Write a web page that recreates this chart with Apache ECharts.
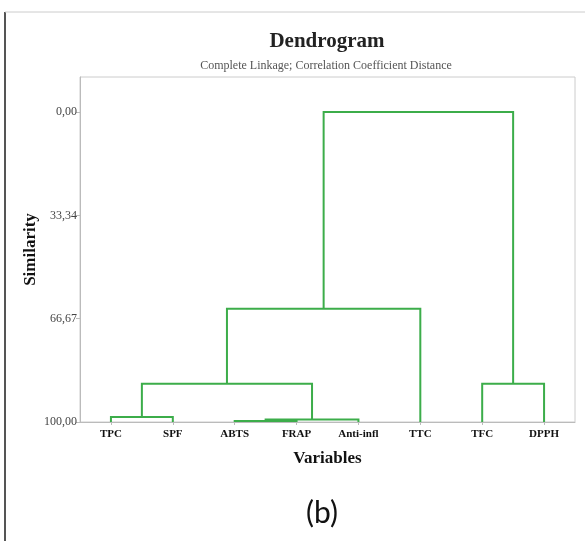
<!DOCTYPE html>
<html>
<head>
<meta charset="utf-8">
<script src="https://cdn.jsdelivr.net/npm/echarts@6/dist/echarts.min.js"></script>
<style>
  html, body { margin: 0; padding: 0; background: #fff; }
  #chart { width: 585px; height: 541px; }
</style>
</head>
<body>
<div id="chart"></div>
<script>
// leaves, left to right
const leafNames = ["TPC", "SPF", "ABTS", "FRAP", "Anti-infl", "TTC", "TFC", "DPPH"];
// merges: ids 0..7 are leaves, merge k gets id 8 + k
const mergeLeft = [0, 2, 9, 8, 6, 11, 13];
const mergeRight = [1, 3, 4, 10, 7, 5, 12];
const mergeHeight = [98.4, 99.7, 99.2, 87.7, 87.7, 63.5, 0];
const yTicks = [0, 33.34, 66.67, 100];

const green = "#3cad4a";
const serif = "'Liberation Serif', 'DejaVu Serif', serif";

// node positions (x = leaf index / mean of children, y = similarity)
const nodeX = leafNames.map((_, i) => i);
const nodeY = leafNames.map(() => 100);
const links = [];
mergeLeft.forEach((a, k) => {
  const b = mergeRight[k];
  const h = mergeHeight[k];
  links.push([nodeX[a], nodeY[a], nodeX[b], nodeY[b], h]);
  nodeX.push((nodeX[a] + nodeX[b]) / 2);
  nodeY.push(h);
});

const chart = echarts.init(document.getElementById("chart"));
chart.setOption({
  animation: false,
  title: [
    {
      text: "Dendrogram",
      left: 322,
      top: 26,
      textAlign: "center",
      textStyle: { fontFamily: serif, fontSize: 21, fontWeight: "bold", color: "#222" },
    },
    {
      text: "Complete Linkage; Correlation Coefficient Distance",
      left: 321,
      top: 55,
      textAlign: "center",
      textStyle: { fontFamily: serif, fontSize: 12, fontWeight: "normal", color: "#555" },
    },
  ],
  grid: {
    left: 80,
    right: 10,
    top: 77,
    bottom: 119,
    show: true,
    borderColor: "#cccccc",
    borderWidth: 1,
  },
  xAxis: {
    type: "value",
    min: -0.5,
    max: 7.5,
    name: "Variables",
    nameLocation: "middle",
    nameGap: 28,
    nameMoveOverlap: false,
    nameTextStyle: { fontFamily: serif, fontSize: 17, fontWeight: "bold", color: "#111" },
    axisLine: { onZero: false, lineStyle: { color: "#bbbbbb" } },
    axisTick: { customValues: leafNames.map((_, i) => i), length: 3, lineStyle: { color: "#bbbbbb" } },
    axisLabel: {
      customValues: leafNames.map((_, i) => i),
      formatter: (v) => leafNames[Math.round(v)],
      fontFamily: serif,
      fontSize: 11,
      fontWeight: "bold",
      color: "#111",
      margin: 7,
    },
    splitLine: { show: false },
  },
  yAxis: {
    type: "value",
    inverse: true,
    min: -11.3,
    max: 100,
    name: "Similarity",
    nameLocation: "middle",
    nameGap: 41,
    nameMoveOverlap: false,
    nameTextStyle: { fontFamily: serif, fontSize: 17, fontWeight: "bold", color: "#111" },
    axisLine: { show: true, onZero: false, lineStyle: { color: "#bbbbbb" } },
    axisTick: { customValues: yTicks, length: 4, lineStyle: { color: "#bbbbbb" } },
    axisLabel: {
      customValues: yTicks,
      formatter: (v) => v.toFixed(2).replace(".", ","),
      fontFamily: serif,
      fontSize: 12,
      color: "#444",
      margin: 3,
    },
    splitLine: { show: false },
  },
  series: [
    {
      type: "custom",
      data: links,
      clip: false,
      renderItem: (params, api) => {
        const p1 = api.coord([api.value(0), api.value(1)]);
        const p2 = api.coord([api.value(0), api.value(4)]);
        const p3 = api.coord([api.value(2), api.value(4)]);
        const p4 = api.coord([api.value(2), api.value(3)]);
        return {
          type: "polyline",
          shape: { points: [p1, p2, p3, p4] },
          style: { stroke: green, lineWidth: 2, fill: null },
        };
      },
    },
  ],
  graphic: [
    { type: "line", shape: { x1: 5, y1: 12, x2: 5, y2: 541 }, style: { stroke: "#555", lineWidth: 2 } },
    { type: "line", shape: { x1: 5, y1: 12, x2: 585, y2: 12 }, style: { stroke: "#cccccc", lineWidth: 1 } },
    {
      type: "text",
      x: 322,
      y: 513,
      style: {
        text: "(b)",
        font: "30px Lato, 'DejaVu Sans', sans-serif",
        fill: "#111",
        align: "center",
        verticalAlign: "middle",
      },
    },
  ],
});
</script>
</body>
</html>
